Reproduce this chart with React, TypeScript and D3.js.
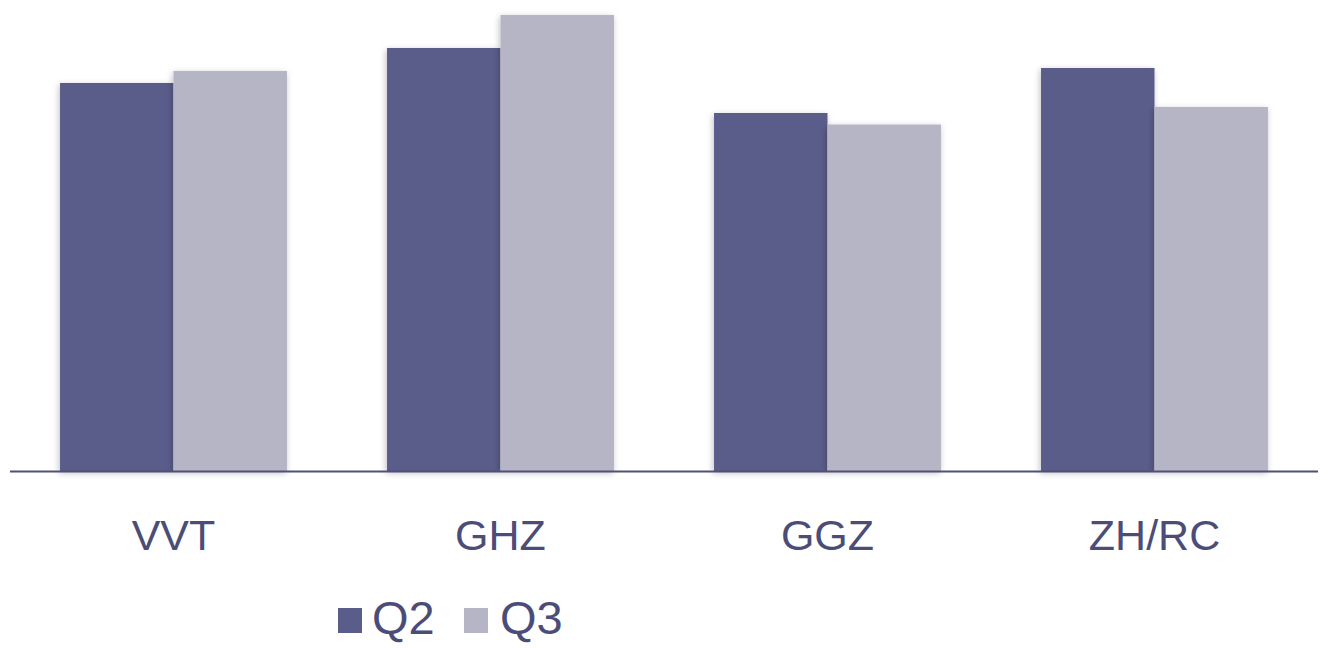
import { useMemo } from 'react';
import * as d3 from 'd3';

const width = 1322;
const height = 648;

const categories = ['VVT', 'GHZ', 'GGZ', 'ZH/RC'];
const seriesNames = ['Q2', 'Q3'];
const q2Values = [388, 423, 358, 403];
const q3Values = [400, 456, 346.5, 364];

const colors = ['#5a5c8a', '#b6b5c6'];
const textColor = '#4b4d78';

const plot = { left: 10, right: 1318, top: 15, baseline: 471 };

export default function App() {
    const xScale = useMemo(() => d3.scaleBand()
        .domain(categories)
        .range([plot.left, plot.right])
        .paddingInner(0.306)
        .paddingOuter(0.153), []);

    const subScale = useMemo(() => d3.scaleBand()
        .domain(seriesNames)
        .range([0, xScale.bandwidth()]), [xScale]);

    const yScale = useMemo(() => d3.scaleLinear()
        .domain([0, d3.max([...q2Values, ...q3Values]) || 0])
        .range([plot.baseline, plot.top]), []);

    const series = [q2Values, q3Values];

    return (
        <svg width={width} height={height} style={{ position: 'absolute', left: 0, top: 0 }}
            fontFamily="'Liberation Sans', Arial, sans-serif">
            <defs>
                <filter id="shadow" x="-20%" y="-20%" width="140%" height="140%">
                    <feDropShadow dx="-1" dy="2" stdDeviation="3" floodColor="#000" floodOpacity="0.25" />
                </filter>
            </defs>
            <rect width={width} height={height} fill="#fff" />
            {categories.map((c, i) => (
                <g key={c} transform={`translate(${xScale(c)},0)`}>
                    {seriesNames.map((s, j) => (
                        <rect
                            key={s}
                            x={subScale(s)}
                            y={yScale(series[j][i])}
                            width={subScale.bandwidth()}
                            height={plot.baseline - yScale(series[j][i])}
                            fill={colors[j]}
                            filter="url(#shadow)"
                        />
                    ))}
                </g>
            ))}
            <line x1={plot.left} x2={plot.right} y1={plot.baseline + 0.5} y2={plot.baseline + 0.5}
                stroke="#4f5178" strokeWidth={2} />
            {categories.map(c => (
                <text key={c} x={(xScale(c) || 0) + xScale.bandwidth() / 2} y={550}
                    textAnchor="middle" fontSize={43} fill={textColor}>{c}</text>
            ))}
            <g>
                <rect x={338} y={608} width={24} height={25} fill={colors[0]} />
                <text x={372} y={634} fontSize={47} fill={textColor}>{seriesNames[0]}</text>
                <rect x={464} y={608} width={24} height={25} fill={colors[1]} />
                <text x={500} y={634} fontSize={47} fill={textColor}>{seriesNames[1]}</text>
            </g>
        </svg>
    );
}
